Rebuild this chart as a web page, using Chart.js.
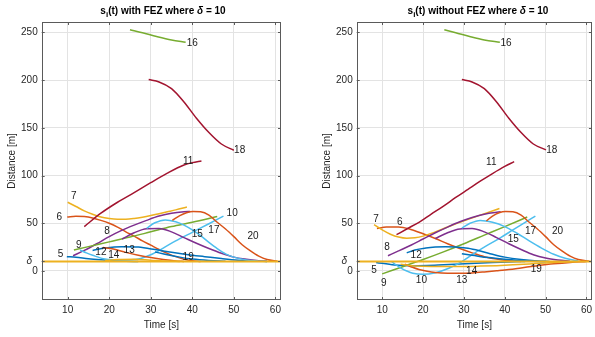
<!DOCTYPE html>
<html>
<head>
<meta charset="utf-8">
<script src="https://cdn.jsdelivr.net/npm/chart.js@4.4.1/dist/chart.umd.min.js"></script>
<style>
    body { margin: 0; background: #fff; overflow: hidden; width: 595px; height: 337px; position: relative; font-family: "Liberation Sans", Arial, sans-serif; }
    canvas { position: absolute; top: 0; }
    .title { position: absolute; top: 5px; font-size: 10px; font-weight: bold; color: #000; white-space: nowrap; transform: translateX(-50%); }
    .title sub { font-size: 8px; }
</style>
</head>
<body>
<canvas id="withFez" width="297" height="337" style="left:0"></canvas>
<canvas id="withoutFez" width="299" height="337" style="left:297px"></canvas>
<div class="title" style="left:163px">s<sub>i</sub>(t) with FEZ where <i>δ</i> = 10</div>
<div class="title" style="left:478px">s<sub>i</sub>(t) without FEZ where <i>δ</i> = 10</div>
<script>
// axis ranges and ticks
const xMin = 3.75, xMax = 61.35;
const yMin = -30.4, yMax = 260.8;
const deltaValue = 10;
const xTickValues = [10, 20, 30, 40, 50, 60];
const yTickValues = [0, 10, 50, 100, 150, 200, 250];

const vehicleIds = [5, 6, 7, 8, 9, 10, 11, 12, 13, 14, 15, 16, 17, 18, 19, 20];
const lineColors = ['#0072BD', '#D95319', '#EDB120', '#7E2F8E', '#77AC30', '#4DBEEE', '#A2142F'];

// s_i(t) with FEZ, [time, distance]
const fez5 = [[9.8, 15], [12, 14.3], [15, 12.8], [18, 11.7], [21, 10.8], [24, 10.2], [27, 10]];
const fez6 = [[9.9, 56.5], [12, 57.3], [14, 57], [16, 55.5], [18, 53], [20, 50], [22, 46], [24, 41], [26, 36.5], [28, 31.5], [30, 27], [32, 22.5], [34, 18.5], [36, 15], [38, 12.3], [40, 10.8], [42, 10]];
const fez7 = [[10, 72], [12, 67.5], [14, 63], [16, 59.5], [18, 56.5], [20, 55], [22, 54.3], [24, 54.3], [26, 55], [28, 56.3], [30, 58], [32, 60], [34, 62], [36, 64], [38.7, 67]];
const fez8 = [[11.3, 16], [14, 21.5], [17, 28.5], [20, 36], [23, 42.5], [26, 48], [29, 53], [32, 57.5], [35, 60.5], [38, 62], [39.5, 62.3]];
const fez9 = [[11.5, 22], [15, 25.5], [20, 30.5], [25, 35.5], [30, 41], [35, 46.5], [40, 51], [46, 57]];
const fez10 = [[13, 22], [14.5, 19], [16, 16.5], [19, 12.5], [23, 11.5], [27, 12.5], [30, 17], [33, 24], [36, 31.5], [40, 40.5], [44, 49.5], [47.5, 57.5]];
const fez11 = [[14, 46.5], [18, 60.5], [22, 72], [26, 82], [30, 92.5], [34, 102.5], [38, 111], [40, 113.5], [42.2, 115.3]];
const fez12 = [[16, 21.5], [19, 24], [23, 25.5], [27, 25], [31, 22.5], [35, 19.5], [39, 17], [43, 15], [47, 13], [51, 11.3], [55, 10.3], [58, 10]];
const fez13 = [[18.5, 24.5], [21, 23], [24, 19.5], [27, 16.5], [30, 14], [33, 12], [36, 10.5], [38, 10]];
const fez14 = [[19, 11], [22, 12], [26, 12.3], [30, 11.3], [34, 10.3], [37, 10]];
const fez15 = [[23.1, 33.5], [26, 40], [29, 44.3], [32, 44.5], [35, 41], [38, 35], [41, 29], [44, 23.5], [47, 18.5], [50, 14.5], [53, 12.3], [56, 10.8], [58, 10.2]];
const fez16 = [[25, 252.6], [28, 249.5], [31.4, 245.6], [35, 242], [38.4, 239.7]];
const fez17 = [[29, 44.7], [31, 50.5], [33.5, 53.5], [36, 51.5], [38, 48], [40, 43], [42, 37], [44, 30], [46, 23.5], [48, 18], [50, 14.5], [53, 11.5], [56, 10.3], [58, 10]];
const fez18 = [[29.5, 200.5], [32, 198], [35, 191], [38, 177], [41, 160], [44, 145], [47, 133], [50, 126.5]];
const fez19 = [[31, 20], [34, 17], [37, 14.5], [40, 12.5], [44, 11], [48, 10.2]];
const fez20 = [[35.2, 53], [37, 58], [38.6, 61], [40.2, 62.3], [42, 62], [44, 58.5], [46, 51], [48, 44], [50, 36], [52, 27.5], [54, 21], [56, 15.5], [58, 12], [60.5, 10.3]];

// s_i(t) without FEZ, [time, distance]
const noFez5 = [[8.5, 9], [13, 6.3], [17, 5.5], [21, 5.8], [25, 6.5], [29, 7.2], [33, 8], [37, 8.8], [41, 9.5], [45, 10]];
const noFez6 = [[8.7, 44.5], [11, 46], [14, 46], [17, 43.5], [20, 39], [23, 34], [26, 28.5], [29, 23.5], [32, 19], [35, 15], [38, 12.5], [41, 10.8], [44, 10]];
const noFez7 = [[8, 48.5], [10, 43], [12, 38.5], [14, 35.5], [16, 34.3], [18, 34.8], [20, 36.5], [23, 41], [26, 46], [30, 52.5], [34, 58.5], [38.7, 65.5]];
const noFez8 = [[11.4, 16], [14, 21], [17, 27], [20, 33.5], [23, 40], [26, 46], [29, 51.5], [32, 56], [35, 59.5], [39, 62]];
const noFez9 = [[10, -3], [15, 4.5], [20, 12], [25, 20], [30, 28.5], [35, 37.5], [40, 46.5], [45.5, 56.5]];
const noFez10 = [[12.3, 9.8], [13.5, 6], [14.7, 2.8], [16, 0], [17.5, -2.4], [19.9, -3.5], [23.1, -1.8], [26.3, 2.8], [29.5, 9.8], [32.7, 19], [36, 27.5], [39, 35], [42, 43], [45, 51], [47.5, 57.5]];
const noFez11 = [[13.5, 38], [16, 44], [19, 51], [22, 59.5], [25, 68], [28, 77], [31, 85.5], [34, 94], [37, 102], [40, 109.5], [42.3, 114.5]];
const noFez12 = [[16, 19], [18, 22], [20.7, 24], [23, 25], [25.5, 25.5], [28, 25], [31, 23.8], [34, 21], [37, 17.5], [40, 14.5], [44, 12], [48, 10.5], [51, 10]];
const noFez13 = [[15.5, 7], [17, 4.5], [19, 1.5], [21, -0.3], [23, -1.5], [26, -2.3], [29, -2.4], [32, -2], [35, -1], [38, 0.2], [41, 1.5], [44, 3.2], [48, 5.5], [52, 7.5], [56, 9], [60, 10]];
const noFez14 = [[14.5, 7], [18, 5.3], [22, 4.8], [26, 4.8], [30, 4.8], [34, 5.1], [38, 5.6], [42, 6.4], [46, 7.4], [50, 8.4], [54, 9.3], [58, 10]];
const noFez15 = [[23, 34], [26, 40], [29, 44], [32, 44.5], [35, 41], [38, 35], [41, 28.5], [44, 22.5], [47, 17], [50, 13.5], [53, 11.5], [56, 10.3]];
const noFez16 = [[25.2, 252.6], [28, 249.5], [31.4, 245.6], [35, 242], [38.8, 239.7]];
const noFez17 = [[29.5, 45], [31.5, 50], [34, 53], [37, 51], [40, 46.5], [43, 39.5], [46, 31.5], [49, 24], [52, 17.5], [55, 13], [58, 10.5]];
const noFez18 = [[29.5, 200.5], [32, 198], [35, 191], [38, 177], [41, 160], [44, 145], [47, 133], [50.1, 126.8]];
const noFez19 = [[29.5, 18], [32, 16.5], [36, 14], [40, 12.3], [44, 11], [47, 10.2], [50, 10]];
const noFez20 = [[35.5, 52.5], [37, 57.5], [38.6, 61], [40.2, 62.3], [42, 62], [44, 58.5], [46, 51], [48, 44], [50, 36], [52, 27.5], [54, 21], [56, 15.5], [58, 12], [60.7, 10.3]];

// where the vehicle numbers are written
const fezLabelT = [8.3, 8.0, 11.5, 19.5, 12.7, 49.6, 39.0, 18.0, 24.8, 21.1, 41.2, 40.0, 45.2, 51.4, 39.0, 54.6];
const fezLabelV = [17.5, 55.9, 77.9, 41.9, 27.3, 60.5, 114.6, 19.2, 22, 16.4, 38.8, 238.6, 42.2, 126, 14.4, 36];
const noFezLabelT = [8.0, 14.3, 8.5, 11.2, 10.4, 19.6, 36.7, 18.3, 29.5, 31.9, 42.1, 40.3, 46.3, 51.5, 47.7, 52.9];
const noFezLabelV = [1, 50.6, 54.2, 24.8, -12.9, -9.4, 113.5, 16, -9.4, 0, 33.5, 238.7, 41.2, 126, 2, 41.2];

const fezTracks = [fez5, fez6, fez7, fez8, fez9, fez10, fez11, fez12, fez13, fez14, fez15, fez16, fez17, fez18, fez19, fez20];
const noFezTracks = [noFez5, noFez6, noFez7, noFez8, noFez9, noFez10, noFez11, noFez12, noFez13, noFez14, noFez15, noFez16, noFez17, noFez18, noFez19, noFez20];

const FONT = '"Liberation Sans", Arial, sans-serif';
const TEXT_COLOR = '#262626';

// box, inward tick marks and the vehicle numbers
const panelDecor = {
    id: 'panelDecor',
    afterDatasetsDraw(chart, args, opts) {
        const { ctx, chartArea: a, scales: { x, y } } = chart;
        ctx.save();
        ctx.strokeStyle = '#5a5a5a';
        ctx.lineWidth = 1;
        ctx.strokeRect(Math.round(a.left) + 0.5, Math.round(a.top) + 0.5, Math.round(a.width) - 1, Math.round(a.height) - 1);
        ctx.beginPath();
        xTickValues.forEach(v => {
            const px = Math.round(x.getPixelForValue(v)) + 0.5;
            ctx.moveTo(px, a.bottom); ctx.lineTo(px, a.bottom - 3);
            ctx.moveTo(px, a.top); ctx.lineTo(px, a.top + 3);
        });
        yTickValues.forEach(v => {
            const py = Math.round(y.getPixelForValue(v)) + 0.5;
            ctx.moveTo(a.left, py); ctx.lineTo(a.left + 3, py);
            ctx.moveTo(a.right, py); ctx.lineTo(a.right - 3, py);
        });
        ctx.stroke();

        ctx.font = '10px ' + FONT;
        ctx.fillStyle = '#1a1a1a';
        ctx.textAlign = 'center';
        ctx.textBaseline = 'middle';
        opts.names.forEach((name, i) => {
            ctx.fillText(String(name), x.getPixelForValue(opts.t[i]), y.getPixelForValue(opts.v[i]));
        });
        ctx.restore();
    }
};

function buildPanel(canvasId, tracks, labelT, labelV, yAxisWidth, yTitlePad, rightPad) {
    const datasets = tracks.map((track, i) => ({
        data: track.map(p => ({ x: p[0], y: p[1] })),
        borderColor: lineColors[i % lineColors.length],
        borderWidth: 1.5,
        pointRadius: 0,
        cubicInterpolationMode: 'monotone',
        order: tracks.length - i
    }));
    // the delta line goes on top
    datasets.push({
        data: [{ x: xMin, y: deltaValue }, { x: xMax, y: deltaValue }],
        borderColor: '#EDB120',
        borderWidth: 2,
        pointRadius: 0,
        order: 0
    });

    return new Chart(document.getElementById(canvasId), {
        type: 'line',
        data: { datasets },
        plugins: [panelDecor],
        options: {
            responsive: false,
            animation: false,
            layout: {
                autoPadding: false,
                padding: { left: 0, right: rightPad, top: 22, bottom: 0 }
            },
            plugins: {
                legend: { display: false },
                tooltip: { enabled: false },
                panelDecor: { names: vehicleIds, t: labelT, v: labelV }
            },
            scales: {
                x: {
                    type: 'linear',
                    min: xMin,
                    max: xMax,
                    afterBuildTicks: s => { s.ticks = xTickValues.map(v => ({ value: v })); },
                    afterFit: s => { s.height = 37; },
                    grid: { color: '#e3e3e3', drawTicks: false },
                    border: { display: false },
                    ticks: {
                        color: TEXT_COLOR,
                        padding: 4,
                        maxRotation: 0,
                        font: { size: 10, family: FONT }
                    },
                    title: {
                        display: true,
                        text: 'Time [s]',
                        color: TEXT_COLOR,
                        font: { size: 10, family: FONT },
                        padding: { top: 0, bottom: 6 }
                    }
                },
                y: {
                    type: 'linear',
                    min: yMin,
                    max: yMax,
                    afterBuildTicks: s => { s.ticks = yTickValues.map(v => ({ value: v })); },
                    afterFit: s => { s.width = yAxisWidth; },
                    grid: { color: '#e3e3e3', drawTicks: false },
                    border: { display: false },
                    ticks: {
                        color: TEXT_COLOR,
                        padding: 4,
                        callback: v => (v === deltaValue ? 'δ  ' : String(v)),
                        font: ctx => ({
                            size: 10,
                            family: FONT,
                            style: ctx.tick && ctx.tick.value === deltaValue ? 'italic' : 'normal'
                        })
                    },
                    title: {
                        display: true,
                        text: 'Distance [m]',
                        color: TEXT_COLOR,
                        font: { size: 10, family: FONT },
                        padding: { top: yTitlePad, bottom: 0 }
                    }
                }
            }
        }
    });
}

buildPanel('withFez', fezTracks, fezLabelT, fezLabelV, 41.7, 6, 16);
buildPanel('withoutFez', noFezTracks, noFezLabelT, noFezLabelV, 59.7, 24, 0);
</script>
</body>
</html>
